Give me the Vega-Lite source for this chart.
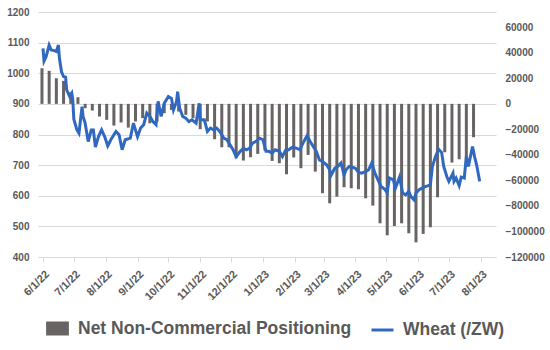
{
  "$schema": "https://vega.github.io/schema/vega-lite/v6.json",
  "width": 458,
  "height": 245,
  "autosize": {"type": "none"},
  "padding": {"left": 38, "top": 12, "right": 54, "bottom": 93},
  "background": "white",
  "datasets": {
    "cot": [
      {"d": "2022-05-31", "n": 27900}, {"d": "2022-06-07", "n": 25900}, {"d": "2022-06-14", "n": 20100}, {"d": "2022-06-21", "n": 18000},
      {"d": "2022-06-28", "n": 9100}, {"d": "2022-07-05", "n": 5200}, {"d": "2022-07-12", "n": -3400}, {"d": "2022-07-19", "n": -5200},
      {"d": "2022-07-26", "n": -9900}, {"d": "2022-08-02", "n": -12500}, {"d": "2022-08-09", "n": -17000}, {"d": "2022-08-16", "n": -14600},
      {"d": "2022-08-23", "n": -18600}, {"d": "2022-08-30", "n": -13800}, {"d": "2022-09-06", "n": -11200}, {"d": "2022-09-13", "n": -15200},
      {"d": "2022-09-20", "n": -13800}, {"d": "2022-09-27", "n": -7300}, {"d": "2022-10-04", "n": -4700}, {"d": "2022-10-11", "n": -6000},
      {"d": "2022-10-18", "n": -8600}, {"d": "2022-10-25", "n": -11200}, {"d": "2022-11-01", "n": -19800}, {"d": "2022-11-08", "n": -13800},
      {"d": "2022-11-15", "n": -27700}, {"d": "2022-11-22", "n": -34000}, {"d": "2022-11-29", "n": -34000}, {"d": "2022-12-06", "n": -42600},
      {"d": "2022-12-13", "n": -44400}, {"d": "2022-12-20", "n": -41800}, {"d": "2022-12-27", "n": -39200}, {"d": "2023-01-03", "n": -36600},
      {"d": "2023-01-10", "n": -44700}, {"d": "2023-01-17", "n": -46500}, {"d": "2023-01-24", "n": -55200}, {"d": "2023-01-31", "n": -42100},
      {"d": "2023-02-07", "n": -50400}, {"d": "2023-02-14", "n": -40000}, {"d": "2023-02-21", "n": -53100}, {"d": "2023-02-28", "n": -70000},
      {"d": "2023-03-07", "n": -77900}, {"d": "2023-03-14", "n": -72700}, {"d": "2023-03-21", "n": -65300}, {"d": "2023-03-28", "n": -66100},
      {"d": "2023-04-04", "n": -66900}, {"d": "2023-04-11", "n": -74000}, {"d": "2023-04-18", "n": -79700}, {"d": "2023-04-25", "n": -93600},
      {"d": "2023-05-02", "n": -103000}, {"d": "2023-05-09", "n": -95700}, {"d": "2023-05-16", "n": -93600}, {"d": "2023-05-23", "n": -101400},
      {"d": "2023-05-30", "n": -108500}, {"d": "2023-06-06", "n": -101900}, {"d": "2023-06-13", "n": -96700}, {"d": "2023-06-20", "n": -73200},
      {"d": "2023-06-27", "n": -37900}, {"d": "2023-07-04", "n": -46000}, {"d": "2023-07-11", "n": -43400}, {"d": "2023-07-18", "n": -49100},
      {"d": "2023-07-25", "n": -26100}
    ],
    "wheat": [
      {"d": "2022-06-01", "p": 1081}, {"d": "2022-06-02", "p": 1040}, {"d": "2022-06-04", "p": 1054}, {"d": "2022-06-07", "p": 1092},
      {"d": "2022-06-09", "p": 1076}, {"d": "2022-06-12", "p": 1074}, {"d": "2022-06-14", "p": 1071}, {"d": "2022-06-16", "p": 1092},
      {"d": "2022-06-17", "p": 1049}, {"d": "2022-06-19", "p": 1005}, {"d": "2022-06-21", "p": 989}, {"d": "2022-06-23", "p": 987},
      {"d": "2022-06-24", "p": 946}, {"d": "2022-06-27", "p": 924}, {"d": "2022-06-29", "p": 935}, {"d": "2022-06-30", "p": 913},
      {"d": "2022-07-01", "p": 850}, {"d": "2022-07-04", "p": 815}, {"d": "2022-07-06", "p": 804}, {"d": "2022-07-09", "p": 891},
      {"d": "2022-07-10", "p": 859}, {"d": "2022-07-12", "p": 837}, {"d": "2022-07-15", "p": 777}, {"d": "2022-07-18", "p": 815},
      {"d": "2022-07-20", "p": 815}, {"d": "2022-07-22", "p": 759}, {"d": "2022-07-25", "p": 793}, {"d": "2022-07-28", "p": 815},
      {"d": "2022-07-31", "p": 793}, {"d": "2022-08-03", "p": 763}, {"d": "2022-08-06", "p": 783}, {"d": "2022-08-11", "p": 810},
      {"d": "2022-08-14", "p": 799}, {"d": "2022-08-17", "p": 750}, {"d": "2022-08-20", "p": 783}, {"d": "2022-08-25", "p": 788},
      {"d": "2022-08-28", "p": 837}, {"d": "2022-09-01", "p": 793}, {"d": "2022-09-04", "p": 821}, {"d": "2022-09-07", "p": 832},
      {"d": "2022-09-10", "p": 870}, {"d": "2022-09-13", "p": 859}, {"d": "2022-09-16", "p": 842}, {"d": "2022-09-19", "p": 832},
      {"d": "2022-09-21", "p": 908}, {"d": "2022-09-24", "p": 859}, {"d": "2022-09-27", "p": 902}, {"d": "2022-10-01", "p": 924},
      {"d": "2022-10-04", "p": 918}, {"d": "2022-10-06", "p": 880}, {"d": "2022-10-09", "p": 908}, {"d": "2022-10-10", "p": 940},
      {"d": "2022-10-12", "p": 886}, {"d": "2022-10-15", "p": 859}, {"d": "2022-10-18", "p": 853}, {"d": "2022-10-21", "p": 842},
      {"d": "2022-10-24", "p": 848}, {"d": "2022-10-28", "p": 837}, {"d": "2022-10-31", "p": 902}, {"d": "2022-11-01", "p": 848},
      {"d": "2022-11-05", "p": 848}, {"d": "2022-11-08", "p": 810}, {"d": "2022-11-11", "p": 821}, {"d": "2022-11-14", "p": 815},
      {"d": "2022-11-17", "p": 821}, {"d": "2022-11-20", "p": 810}, {"d": "2022-11-24", "p": 788}, {"d": "2022-11-27", "p": 783},
      {"d": "2022-11-30", "p": 766}, {"d": "2022-12-03", "p": 750}, {"d": "2022-12-06", "p": 728}, {"d": "2022-12-10", "p": 745},
      {"d": "2022-12-13", "p": 755}, {"d": "2022-12-16", "p": 750}, {"d": "2022-12-19", "p": 755}, {"d": "2022-12-22", "p": 772},
      {"d": "2022-12-25", "p": 777}, {"d": "2022-12-29", "p": 788}, {"d": "2023-01-01", "p": 783}, {"d": "2023-01-04", "p": 745},
      {"d": "2023-01-07", "p": 745}, {"d": "2023-01-10", "p": 739}, {"d": "2023-01-13", "p": 750}, {"d": "2023-01-17", "p": 745},
      {"d": "2023-01-20", "p": 728}, {"d": "2023-01-23", "p": 748}, {"d": "2023-01-26", "p": 750}, {"d": "2023-01-30", "p": 759},
      {"d": "2023-02-03", "p": 755}, {"d": "2023-02-06", "p": 750}, {"d": "2023-02-09", "p": 772}, {"d": "2023-02-13", "p": 796},
      {"d": "2023-02-16", "p": 777}, {"d": "2023-02-19", "p": 761}, {"d": "2023-02-22", "p": 745}, {"d": "2023-02-25", "p": 717},
      {"d": "2023-02-28", "p": 712}, {"d": "2023-03-04", "p": 701}, {"d": "2023-03-07", "p": 685}, {"d": "2023-03-08", "p": 665},
      {"d": "2023-03-12", "p": 690}, {"d": "2023-03-15", "p": 696}, {"d": "2023-03-18", "p": 707}, {"d": "2023-03-21", "p": 668},
      {"d": "2023-03-23", "p": 685}, {"d": "2023-03-26", "p": 696}, {"d": "2023-03-29", "p": 693}, {"d": "2023-04-01", "p": 690},
      {"d": "2023-04-04", "p": 676}, {"d": "2023-04-07", "p": 674}, {"d": "2023-04-11", "p": 679}, {"d": "2023-04-14", "p": 685},
      {"d": "2023-04-17", "p": 707}, {"d": "2023-04-20", "p": 674}, {"d": "2023-04-23", "p": 652}, {"d": "2023-04-26", "p": 630},
      {"d": "2023-04-30", "p": 620}, {"d": "2023-05-02", "p": 609}, {"d": "2023-05-04", "p": 658}, {"d": "2023-05-08", "p": 652},
      {"d": "2023-05-10", "p": 625}, {"d": "2023-05-14", "p": 661}, {"d": "2023-05-17", "p": 609}, {"d": "2023-05-20", "p": 603},
      {"d": "2023-05-23", "p": 614}, {"d": "2023-05-25", "p": 598}, {"d": "2023-05-28", "p": 587}, {"d": "2023-05-30", "p": 609},
      {"d": "2023-06-02", "p": 620}, {"d": "2023-06-05", "p": 625}, {"d": "2023-06-08", "p": 630}, {"d": "2023-06-11", "p": 633},
      {"d": "2023-06-13", "p": 636}, {"d": "2023-06-15", "p": 696}, {"d": "2023-06-18", "p": 728}, {"d": "2023-06-21", "p": 752},
      {"d": "2023-06-24", "p": 741}, {"d": "2023-06-26", "p": 696}, {"d": "2023-06-29", "p": 663}, {"d": "2023-07-01", "p": 647},
      {"d": "2023-07-05", "p": 674}, {"d": "2023-07-06", "p": 647}, {"d": "2023-07-08", "p": 658}, {"d": "2023-07-11", "p": 633},
      {"d": "2023-07-13", "p": 661}, {"d": "2023-07-16", "p": 658}, {"d": "2023-07-18", "p": 728}, {"d": "2023-07-20", "p": 696},
      {"d": "2023-07-22", "p": 728}, {"d": "2023-07-24", "p": 761}, {"d": "2023-07-26", "p": 728}, {"d": "2023-07-28", "p": 701},
      {"d": "2023-07-31", "p": 647}
    ]
  },
  "encoding": {
    "x": {
      "field": "d",
      "type": "temporal",
      "scale": {
        "type": "utc",
        "domain": [{"year": 2022, "month": 6, "date": 1, "utc": true}, {"year": 2023, "month": 8, "date": 11, "utc": true}]
      },
      "axis": {
        "title": null,
        "values": [
          {"year": 2022, "month": 6, "date": 1, "utc": true}, {"year": 2022, "month": 7, "date": 1, "utc": true},
          {"year": 2022, "month": 8, "date": 1, "utc": true}, {"year": 2022, "month": 9, "date": 1, "utc": true},
          {"year": 2022, "month": 10, "date": 1, "utc": true}, {"year": 2022, "month": 11, "date": 1, "utc": true},
          {"year": 2022, "month": 12, "date": 1, "utc": true}, {"year": 2023, "month": 1, "date": 1, "utc": true},
          {"year": 2023, "month": 2, "date": 1, "utc": true}, {"year": 2023, "month": 3, "date": 1, "utc": true},
          {"year": 2023, "month": 4, "date": 1, "utc": true}, {"year": 2023, "month": 5, "date": 1, "utc": true},
          {"year": 2023, "month": 6, "date": 1, "utc": true}, {"year": 2023, "month": 7, "date": 1, "utc": true},
          {"year": 2023, "month": 8, "date": 1, "utc": true}
        ],
        "format": "%-m/%-d/%y",
        "labelAngle": -45,
        "labelFontSize": 11,
        "grid": false,
        "tickSize": 5,
        "labelPadding": 6,
        "labelFlush": false,
        "labelOverlap": false
      }
    }
  },
  "layer": [
    {
      "data": {"name": "cot"},
      "mark": {"type": "bar", "size": 3, "clip": true},
      "encoding": {
        "y": {
          "field": "n",
          "type": "quantitative",
          "scale": {"domain": [-120000, 72000], "nice": false, "zero": false},
          "axis": {
            "orient": "right",
            "title": null,
            "grid": false,
            "domain": false,
            "ticks": false,
            "tickSize": 0,
            "labelPadding": 9,
            "format": "d",
            "values": [-120000, -100000, -80000, -60000, -40000, -20000, 0, 20000, 40000, 60000]
          }
        },
        "y2": {"datum": 0},
        "color": {
          "datum": "Net Non-Commercial Positioning",
          "scale": {"domain": ["Net Non-Commercial Positioning", "Wheat (/ZW)"], "range": ["#686464", "#3068c0"]},
          "legend": {
            "orient": "none",
            "legendX": 7,
            "legendY": 304,
            "direction": "horizontal",
            "title": null,
            "padding": 0,
            "labelFont": "Liberation Sans",
            "labelFontSize": 17.5,
            "labelFontWeight": "bold",
            "labelColor": "#595959",
            "labelLimit": 500,
            "symbolSize": 484,
            "labelOffset": 8,
            "columnPadding": 13,
            "encode": {
              "symbols": {
                "update": {
                  "shape": {"signal": "datum.value === 'Wheat (/ZW)' ? 'M-1,0H1' : 'M-0.9,-0.5H0.9V0.5H-0.9Z'"},
                  "fill": {"signal": "datum.value === 'Wheat (/ZW)' ? 'transparent' : '#686464'"},
                  "stroke": {"signal": "datum.value === 'Wheat (/ZW)' ? '#3068c0' : 'transparent'"},
                  "strokeWidth": {"value": 3},
                  "opacity": {"value": 1},
                  "fillOpacity": {"value": 1},
                  "strokeOpacity": {"value": 1}
                }
              }
            }
          }
        }
      }
    },
    {
      "data": {"name": "wheat"},
      "mark": {"type": "line", "strokeWidth": 3, "clip": true},
      "encoding": {
        "y": {
          "field": "p",
          "type": "quantitative",
          "scale": {"domain": [400, 1200], "nice": false, "zero": false},
          "axis": {
            "orient": "left",
            "title": null,
            "grid": true,
            "domain": false,
            "ticks": false,
            "tickSize": 0,
            "labelPadding": 9,
            "format": "d",
            "values": [400, 500, 600, 700, 800, 900, 1000, 1100, 1200]
          }
        },
        "color": {
          "datum": "Wheat (/ZW)",
          "scale": {"domain": ["Net Non-Commercial Positioning", "Wheat (/ZW)"], "range": ["#686464", "#3068c0"]}
        }
      }
    }
  ],
  "resolve": {"scale": {"y": "independent"}},
  "config": {
    "view": {"stroke": null},
    "axis": {
      "labelFont": "Liberation Sans",
      "labelFontSize": 10,
      "labelFontWeight": "bold",
      "labelColor": "#595959",
      "gridColor": "#d9d9d9",
      "gridWidth": 1,
      "domainColor": "#d9d9d9",
      "tickColor": "#d9d9d9"
    }
  }
}
